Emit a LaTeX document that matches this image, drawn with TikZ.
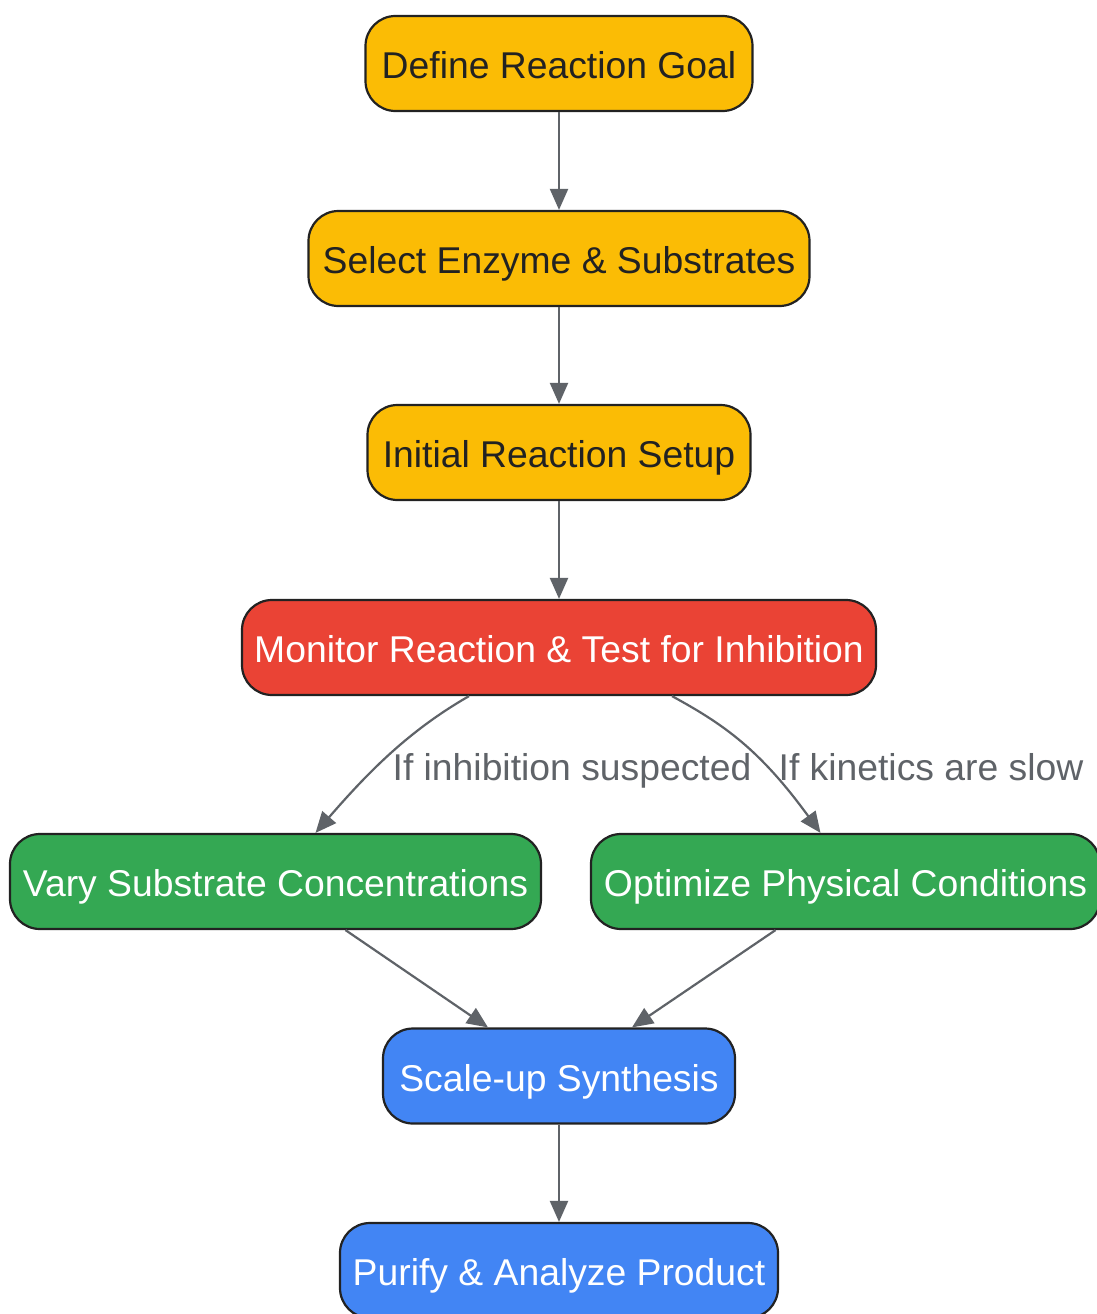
\documentclass[tikz,border=0pt]{standalone}
\usepackage{fontspec}
\setmainfont{Liberation Sans}
\usetikzlibrary{arrows.meta}
\definecolor{cyel}{HTML}{FBBC05}
\definecolor{cred}{HTML}{EA4335}
\definecolor{cgrn}{HTML}{34A853}
\definecolor{cblu}{HTML}{4285F4}
\definecolor{cedge}{HTML}{5F6368}
\definecolor{cbord}{HTML}{222222}
\begin{document}
\begin{tikzpicture}[x=1pt,y=-1pt,
  box/.style={draw=cbord, line width=2.2pt, rounded corners=30pt, minimum height=95pt, inner sep=0pt,
    text height=35pt, text depth=5pt, font=\fontsize{37.3}{44}\selectfont},
  yel/.style={box, fill=cyel, text=cbord},
  red/.style={box, fill=cred, text=white},
  grn/.style={box, fill=cgrn, text=white},
  blu/.style={box, fill=cblu, text=white},
  conn/.style={draw=cedge, line width=2.2pt, -{Triangle[length=21pt,width=18pt]}},
  elab/.style={text=cedge, text height=35pt, text depth=5pt, inner sep=0pt, font=\fontsize{37.3}{44}\selectfont}
]
\useasboundingbox (0,0) rectangle (1097,1314);
\fill[white] (0,0) rectangle (1097,1314);
\node[yel, minimum width=387pt] (goal) at (559,63.5) {Define Reaction Goal};
\node[yel, minimum width=501pt] (sel) at (559,258.5) {Select Enzyme \& Substrates};
\node[yel, minimum width=383pt] (init) at (559,452.5) {Initial Reaction Setup};
\node[red, minimum width=634pt] (mon) at (559,647.5) {Monitor Reaction \& Test for Inhibition};
\node[grn, minimum width=531pt] (vary) at (275.5,881.5) {Vary Substrate Concentrations};
\node[grn, minimum width=509pt] (opt) at (845.5,881.5) {Optimize Physical Conditions};
\node[blu, minimum width=352pt] (scale) at (559,1076) {Scale-up Synthesis};
\node[blu, minimum width=438pt] (pur) at (559,1270.5) {Purify \& Analyze Product};

\draw[conn] (goal) -- (sel);
\draw[conn] (sel) -- (init);
\draw[conn] (init) -- (mon);
\draw[conn] ([xshift=-90pt]mon.south) .. controls (410,730) and (370,770) .. ([xshift=40pt]vary.north);
\draw[conn] ([xshift=113pt]mon.south) .. controls (725,725) and (760,750) .. ([xshift=-25pt]opt.north);
\draw[conn] ([xshift=70pt]vary.south) -- ([xshift=-71pt]scale.north);
\draw[conn] ([xshift=-70pt]opt.south) -- ([xshift=73pt]scale.north);
\draw[conn] (scale) -- (pur);

\node[elab] (l1) at (572,765) {If inhibition suspected};
\node[elab] (l2) at (931,765) {If kinetics are slow};
\end{tikzpicture}
\end{document}
